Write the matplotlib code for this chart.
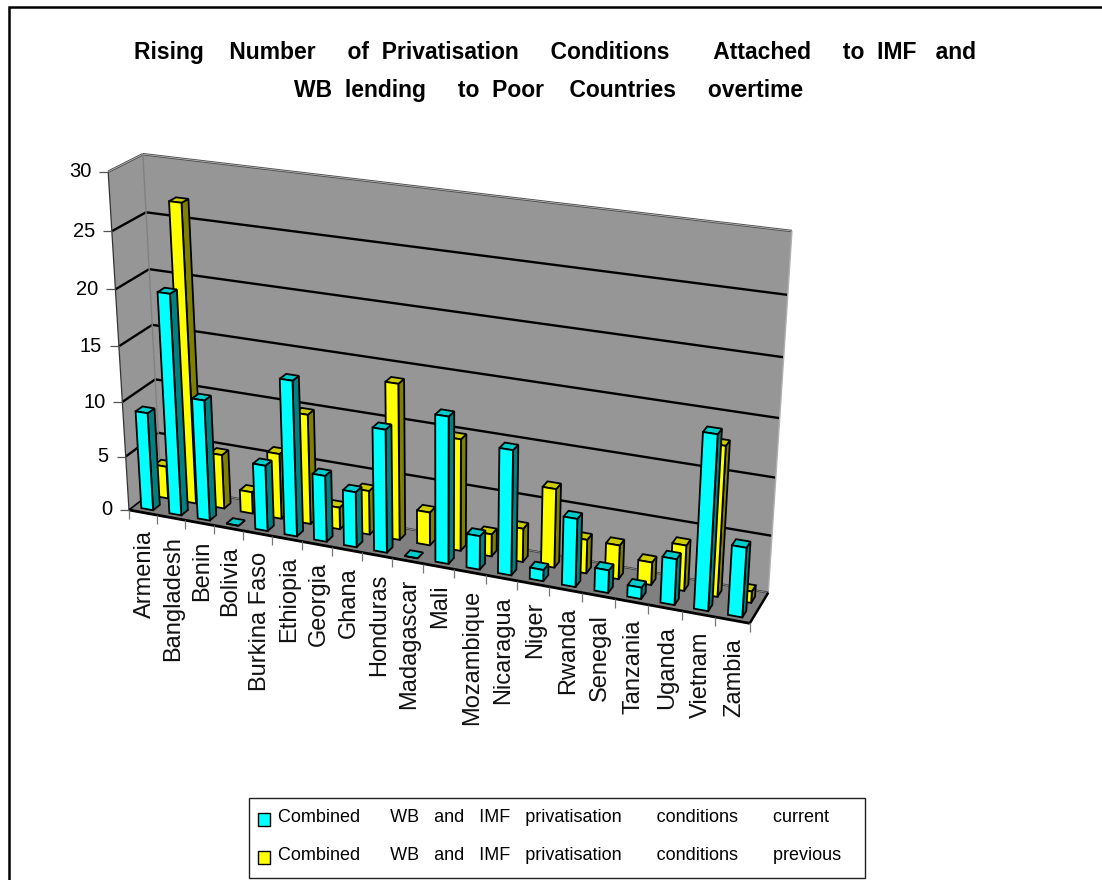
#!/usr/bin/env python3
"""Rising privatisation conditions chart, Excel style 3-D columns.

matplotlib's 2D axes in pixel units, with a small camera fitted to the
corners of the plot box so that the bars can be given in data values.
"""

import matplotlib
matplotlib.use("Agg")
import matplotlib.pyplot as plt
from matplotlib.patches import Polygon, Rectangle
import numpy as np

countries = ["Armenia", "Bangladesh", "Benin", "Bolivia", "Burkina Faso", "Ethiopia",
             "Georgia", "Ghana", "Honduras", "Madagascar", "Mali", "Mozambique",
             "Nicaragua", "Niger", "Rwanda", "Senegal", "Tanzania", "Uganda",
             "Vietnam", "Zambia"]
current = [9, 20, 11, 0, 6, 14, 6, 5, 11, 0, 13, 3, 11, 1, 6, 2, 1, 4, 15, 6]
previous = [3, 27, 5, 2, 6, 10, 2, 4, 14, 3, 10, 2, 3, 7, 3, 3, 2, 4, 13, 1]
y_ticks = [0, 5, 10, 15, 20, 25, 30]

title_lines = ["Rising    Number     of  Privatisation     Conditions       Attached     to  IMF   and",
               "WB  lending     to  Poor    Countries     overtime"]
legend_labels = ["Combined      WB   and   IMF   privatisation       conditions       current",
                 "Combined      WB   and   IMF   privatisation       conditions       previous"]

FONT = ["Liberation Sans", "DejaVu Sans"]
YMAX = 30.0

# ── Camera: box corners (x, value, depth in 0..1) seen at these pixels ───────
anchors = [((0, 0, 0), (128, 510)), ((1, 0, 0), (750, 623)), ((0, 0, 1), (162, 485)),
           ((1, 0, 1), (768, 593)), ((0, 1, 0), (109, 172)), ((0, 1, 1), (142, 154)),
           ((1, 1, 1), (792, 231))]


def fit_camera(pairs):
    rows, rhs = [], []
    for (x, y, z), (u, v) in pairs:
        rows.append([x, y, z, 1, 0, 0, 0, 0, -u * x, -u * y, -u * z])
        rhs.append(u)
        rows.append([0, 0, 0, 0, x, y, z, 1, -v * x, -v * y, -v * z])
        rhs.append(v)
    p = np.linalg.lstsq(np.array(rows, float), np.array(rhs, float), rcond=None)[0]
    return np.append(p, 1.0).reshape(3, 4)


CAM = fit_camera(anchors)


def project(cat, value, depth):
    """cat in category units, value in chart units, depth 0 (front) to 1 (back)."""
    p = CAM @ np.array([cat / len(countries), value / YMAX, depth, 1.0])
    return p[0] / p[2], p[1] / p[2]


fig = plt.figure(figsize=(11.02, 8.8), dpi=100, facecolor="white")
ax = fig.add_axes([0, 0, 1, 1])
ax.set_xlim(0, 1102)
ax.set_ylim(880, 0)
ax.axis("off")

# ── Walls and floor ──────────────────────────────────────────────────────────
n = len(countries)
ax.add_patch(Polygon([project(0, 0, 1), project(n, 0, 1), project(n, YMAX, 1), project(0, YMAX, 1)],
                     fc="#969696", ec="none", zorder=1))
ax.add_patch(Polygon([project(0, 0, 0), project(0, 0, 1), project(0, YMAX, 1), project(0, YMAX, 0)],
                     fc="#969696", ec="none", zorder=1))
ax.add_patch(Polygon([project(0, 0, 0), project(n, 0, 0), project(n, 0, 1), project(0, 0, 1)],
                     fc="#808080", ec="none", zorder=1))


def seg(a, b, **kw):
    ax.plot([a[0], b[0]], [a[1], b[1]], solid_capstyle="butt", **kw)


for v in y_ticks[1:-1]:
    seg(project(0, v, 0), project(0, v, 1), color="black", lw=1.7, zorder=2)
    seg(project(0, v, 1), project(n, v, 1), color="black", lw=1.7, zorder=2)

# top edge of the walls has a little thickness
for a, b in [(project(0, YMAX, 0), project(0, YMAX, 1)), (project(0, YMAX, 1), project(n, YMAX, 1))]:
    seg(a, b, color="#4d4d4d", lw=1.8, zorder=2)
    seg(a, b, color="#c8c8c8", lw=0.5, zorder=2)
seg(project(0, 0, 1), project(0, YMAX, 1), color="#808080", lw=1.0, zorder=2)
seg(project(n, 0, 1), project(n, YMAX, 1), color="#b0b0b0", lw=1.0, zorder=2)
seg(project(0, 0, 0), project(0, YMAX, 0), color="#333333", lw=0.9, zorder=2)
seg(project(0, 0, 1), project(n, 0, 1), color="#404040", lw=1.6, zorder=2)
seg(project(0, 0, 1), project(n, 0, 1), color="#b0b0b0", lw=0.4, zorder=2)
seg(project(0, 0, 0), project(0, 0, 1), color="black", lw=1.2, zorder=2)
seg(project(n, 0, 0), project(n, 0, 1), color="black", lw=1.8, zorder=2)
seg(project(0, 0, 0), project(n, 0, 0), color="black", lw=2.0, zorder=2)

# ── Axis ticks and labels ────────────────────────────────────────────────────
for v in y_ticks:
    x0, y0 = project(0, v, 0)
    seg((x0 - 9, y0), (x0, y0), color="#555555", lw=0.9, zorder=2)
    ax.text(x0 - 17, y0, str(v), ha="right", va="center", fontsize=14.5, family=FONT, color="black")

for i in range(n + 1):
    x0, y0 = project(i, 0, 0)
    seg((x0, y0), (x0, y0 + 9), color="#777777", lw=0.9, zorder=2)

for i, name in enumerate(countries):
    x0, y0 = project(i + 0.5, 0, 0)
    ax.text(x0 + 2, y0 + 18, name, rotation=90, ha="center", va="top", fontsize=17,
            family=FONT, color="#111111")

# ── Bars, back series first, left to right ───────────────────────────────────
HALF_W = 0.21


def draw_bar(i, value, z0, z1, front, top, side, zorder):
    l, r = i + 0.5 - HALF_W, i + 0.5 + HALF_W
    style = dict(ec="black", lw=1.3, joinstyle="miter", zorder=zorder)
    ax.add_patch(Polygon([project(r, 0, z0), project(r, 0, z1), project(r, value, z1), project(r, value, z0)],
                         fc=side, **style))
    ax.add_patch(Polygon([project(l, value, z0), project(r, value, z0), project(r, value, z1), project(l, value, z1)],
                         fc=top, **style))
    ax.add_patch(Polygon([project(l, 0, z0), project(r, 0, z0), project(r, value, z0), project(l, value, z0)],
                         fc=front, **style))


for i, v in enumerate(previous):
    draw_bar(i, v, 0.60, 0.81, "#ffff00", "#cccc00", "#808000", 3 + i * 0.01)
for i, v in enumerate(current):
    draw_bar(i, v, 0.13, 0.34, "#00ffff", "#00cccc", "#008080", 4 + i * 0.01)

# ── Title, legend, frame ─────────────────────────────────────────────────────
for line, (lx, cy) in zip(title_lines, [(134, 52), (294, 90)]):
    ax.text(lx, cy, line, ha="left", va="center", fontsize=16.5, fontweight="bold", family=FONT)

ax.add_patch(Rectangle((249, 798), 616, 80, fc="white", ec="#222222", lw=1.0, zorder=5))
for label, swatch, sy, yc in zip(legend_labels, ["#00ffff", "#ffff00"], [813, 851], [818, 856]):
    ax.add_patch(Rectangle((258, sy), 12, 13, fc=swatch, ec="black", lw=1.0, zorder=6))
    ax.text(278, yc, label, ha="left", va="center", fontsize=13, family=FONT, zorder=6)

# outer chart frame runs off the bottom and right of the picture
ax.plot([9, 9, 1102], [880, 7, 7], color="black", lw=1.8, solid_joinstyle="miter")

fig.savefig("out.png", dpi=100, facecolor="white")
plt.close(fig)
